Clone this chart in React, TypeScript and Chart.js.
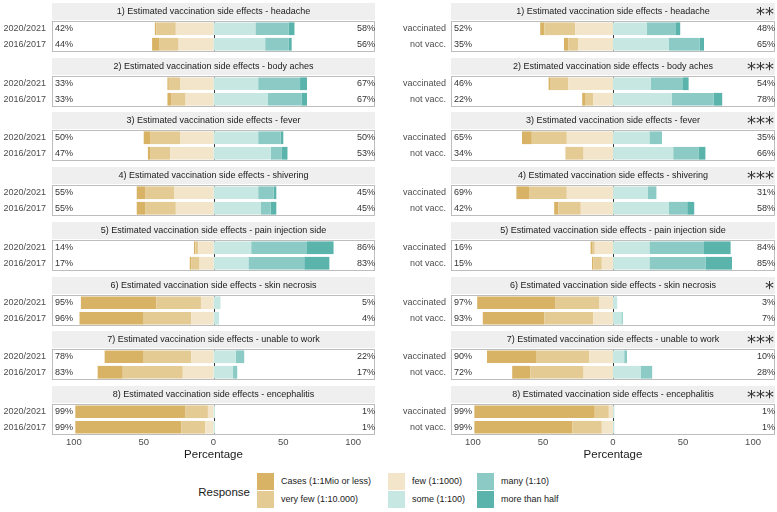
import React, { useEffect, useRef } from 'react';
import { Chart, registerables } from 'chart.js';

Chart.register(...registerables);

const FONT = '"Liberation Sans", Arial, Helvetica, sans-serif';

// ---------- data ----------
const panelTitles = [
  '1) Estimated vaccination side effects - headache',
  '2) Estimated vaccination side effects - body aches',
  '3) Estimated vaccination side effects - fever',
  '4) Estimated vaccination side effects - shivering',
  '5) Estimated vaccination side effects - pain injection side',
  '6) Estimated vaccination side effects - skin necrosis',
  '7) Estimated vaccination side effects - unable to work',
  '8) Estimated vaccination side effects - encephalitis',
];
const yearRows = ['2020/2021', '2016/2017'];
const vaccRows = ['vaccinated', 'not vacc.'];
const significance = ['**', '***', '***', '***', '', '*', '***', '***'];

const levels = [
  'Cases (1:1Mio or less)',
  'very few (1:10.000)',
  'few (1:1000)',
  'some (1:100)',
  'many (1:10)',
  'more than half',
];
const levelColors = ['#D8B365', '#E4CA93', '#F2E5C9', '#C6E7E2', '#8CCBC5', '#5AB4AC'];

// left column: by season [2020/2021, 2016/2017]
const casesYear = [[1, 5], [1, 3], [5, 2], [6, 6], [1, 1], [54, 46], [28, 18], [79, 76]];
const veryFewYear = [[14, 14], [8, 10], [21, 14], [21, 22], [2, 6], [32, 34], [34, 43], [16, 17]];
const fewYear = [[27, 25], [24, 20], [24, 31], [28, 27], [11, 10], [9, 16], [16, 22], [4, 6]];
const someYear = [[30, 37], [32, 39], [32, 41], [32, 34], [27, 25], [5, 4], [16, 14], [1, 1]];
const manyYear = [[24, 17], [30, 24], [16, 8], [11, 7], [40, 40], [0, 0], [6, 3], [0, 0]];
const moreYear = [[4, 2], [5, 4], [2, 4], [2, 4], [19, 18], [0, 0], [0, 0], [0, 0]];

// right column: by vaccination status [vaccinated, not vacc.]
const casesVacc = [[3, 3], [1, 2], [7, 0], [9, 3], [1, 1], [56, 44], [35, 13], [86, 70]];
const veryFewVacc = [[22, 7], [13, 6], [25, 13], [27, 16], [2, 6], [31, 35], [38, 38], [10, 21]];
const fewVacc = [[27, 25], [32, 14], [33, 21], [33, 23], [13, 8], [10, 14], [17, 21], [3, 8]];
const someVacc = [[24, 40], [27, 42], [26, 43], [25, 40], [26, 26], [3, 6], [8, 20], [1, 1]];
const manyVacc = [[21, 22], [23, 30], [9, 18], [6, 13], [39, 40], [0, 1], [2, 8], [0, 0]];
const moreVacc = [[3, 3], [4, 6], [0, 5], [0, 5], [19, 19], [0, 0], [0, 0], [0, 0]];

const xLimit = 115.7;
const axisTitle = 'Percentage';
const legendTitle = 'Response';

// ---------- layout ----------
const PERIOD = 54.71;
const boxTop = (k: number) => Math.round(21 + PERIOD * k);
const STRIP = 18;
const BOX_H = 31;
const AXIS_H = 27;

function Panel({ k, col }: { k: number; col: number }) {
  const ref = useRef<HTMLCanvasElement>(null);
  const isLeft = col === 0;
  const bottom = k === panelTitles.length - 1;
  const width = isLeft ? 376 : 387;
  const height = STRIP + BOX_H + (bottom ? AXIS_H : 0);
  const left = isLeft ? 0 : 390;
  const top = boxTop(k) - STRIP;

  useEffect(() => {
    const rows = isLeft ? yearRows : vaccRows;
    const src = isLeft
      ? [casesYear, veryFewYear, fewYear, someYear, manyYear, moreYear]
      : [casesVacc, veryFewVacc, fewVacc, someVacc, manyVacc, moreVacc];
    const order = [2, 1, 0, 3, 4, 5];
    const datasets = order.map((i) => ({
      label: levels[i],
      data: src[i][k].map((v: number) => (i < 3 ? -v : v)),
      backgroundColor: levelColors[i],
      borderWidth: 0,
      barPercentage: 0.82,
      categoryPercentage: 1,
    }));
    const negSum = rows.map((_, r) => src[0][k][r] + src[1][k][r] + src[2][k][r]);
    const posSum = rows.map((_, r) => src[3][k][r] + src[4][k][r] + src[5][k][r]);

    const deco = {
      id: 'deco',
      beforeDatasetsDraw(chart: any) {
        const { ctx, chartArea: a } = chart;
        ctx.save();
        ctx.fillStyle = '#EFEFEF';
        ctx.fillRect(a.left, a.top - STRIP, a.right - a.left, STRIP - 1);
        ctx.fillStyle = '#1A1A1A';
        ctx.font = `9px ${FONT}`;
        ctx.textAlign = 'center';
        ctx.textBaseline = 'middle';
        ctx.fillText(panelTitles[k], (a.left + a.right) / 2, a.top - STRIP / 2 - 0.5);
        if (!isLeft && significance[k]) {
          ctx.font = '18px "DejaVu Sans"';
          ctx.textAlign = 'right';
          ctx.textBaseline = 'alphabetic';
          const m = ctx.measureText(significance[k]);
          const asc = m.actualBoundingBoxAscent;
          const desc = m.actualBoundingBoxDescent;
          const cy = a.top - STRIP / 2 - 0.5;
          ctx.fillStyle = '#333333';
          ctx.fillText(significance[k], a.right - 1, cy + (asc - desc) / 2);
        }
        ctx.restore();
      },
      afterDatasetsDraw(chart: any) {
        const { ctx, chartArea: a, scales } = chart;
        ctx.save();
        // zero reference line, visible only in the gaps between bars
        const x0 = Math.round(scales.x.getPixelForValue(0)) + 0.5;
        const bars = chart.getDatasetMeta(0).data;
        const edges: number[] = [a.top];
        bars.forEach((b: any) => {
          edges.push(b.y - b.height / 2, b.y + b.height / 2);
        });
        edges.push(a.bottom);
        ctx.strokeStyle = '#333333';
        ctx.lineWidth = 1;
        ctx.beginPath();
        for (let i = 0; i + 1 < edges.length; i += 2) {
          ctx.moveTo(x0, edges[i]);
          ctx.lineTo(x0, edges[i + 1]);
        }
        ctx.stroke();
        // panel border
        ctx.strokeStyle = '#BDBDBD';
        ctx.strokeRect(a.left + 0.5, a.top + 0.5, a.right - a.left - 1, a.bottom - a.top - 1);
        // percentage labels
        ctx.fillStyle = '#333333';
        ctx.font = `9px ${FONT}`;
        ctx.textBaseline = 'middle';
        rows.forEach((_, r) => {
          const y = scales.y.getPixelForValue(r);
          ctx.textAlign = 'left';
          ctx.fillText(`${negSum[r]}%`, a.left + 3, y);
          ctx.textAlign = 'right';
          ctx.fillText(`${posSum[r]}%`, a.right, y);
        });
        ctx.restore();
      },
    };

    const chart = new Chart(ref.current as HTMLCanvasElement, {
      type: 'bar',
      data: { labels: rows, datasets },
      options: {
        indexAxis: 'y',
        animation: false,
        responsive: false,
        events: [],
        layout: { padding: { top: STRIP, right: isLeft ? 1 : 2, left: 0, bottom: 0 } },
        plugins: { legend: { display: false }, tooltip: { enabled: false } },
        scales: {
          x: {
            type: 'linear',
            stacked: true,
            min: -xLimit,
            max: xLimit,
            display: bottom,
            grid: { display: false, drawTicks: false },
            border: { display: false },
            ticks: {
              stepSize: 50,
              includeBounds: false,
              padding: 2,
              color: '#4D4D4D',
              font: { family: FONT, size: 9.5 },
              callback: (v: any) => String(Math.abs(Number(v))),
            },
            title: {
              display: bottom,
              text: axisTitle,
              color: '#1A1A1A',
              font: { family: FONT, size: 11.5 },
              padding: 0,
            },
            afterFit: (s: any) => {
              s.height = bottom ? AXIS_H : 0;
              s.paddingLeft = 0;
              s.paddingRight = 0;
            },
          },
          y: {
            type: 'category',
            stacked: true,
            grid: { display: false, drawTicks: false },
            border: { display: false },
            ticks: {
              padding: isLeft ? 6 : 5,
              color: '#4D4D4D',
              font: { family: FONT, size: 9 },
            },
            afterFit: (s: any) => {
              s.width = isLeft ? 52 : 61;
              s.paddingTop = 0;
              s.paddingBottom = 0;
            },
          },
        },
      } as any,
      plugins: [deco],
    });
    return () => chart.destroy();
  }, [k, col]);

  return (
    <canvas
      ref={ref}
      width={width}
      height={height}
      style={{ position: 'absolute', left, top, width, height }}
    />
  );
}

function Legend() {
  const colX = [257, 388, 477];
  const rowY = [473, 491];
  const items = levels.map((lab, i) => ({
    lab,
    color: levelColors[i],
    x: colX[Math.floor(i / 2)],
    y: rowY[i % 2],
  }));
  return (
    <>
      <div
        style={{
          position: 'absolute',
          left: 150,
          width: 100,
          top: 483,
          height: 18,
          lineHeight: '18px',
          textAlign: 'right',
          fontSize: 11.5,
          color: '#1A1A1A',
          fontFamily: FONT,
        }}
      >
        {legendTitle}
      </div>
      {items.map((it) => (
        <React.Fragment key={it.lab}>
          <div
            style={{
              position: 'absolute',
              left: it.x,
              top: it.y,
              width: 17,
              height: 17,
              background: it.color,
            }}
          />
          <div
            style={{
              position: 'absolute',
              left: it.x + 24,
              top: it.y,
              height: 17,
              lineHeight: '17px',
              fontSize: 9,
              color: '#1A1A1A',
              fontFamily: FONT,
              whiteSpace: 'nowrap',
            }}
          >
            {it.lab}
          </div>
        </React.Fragment>
      ))}
    </>
  );
}

export default function App() {
  return (
    <div
      style={{
        position: 'absolute',
        left: 0,
        top: 0,
        width: 777,
        height: 512,
        background: '#FFFFFF',
        overflow: 'hidden',
        fontFamily: FONT,
      }}
    >
      {panelTitles.map((_, k) => (
        <Panel key={'L' + k} k={k} col={0} />
      ))}
      {panelTitles.map((_, k) => (
        <Panel key={'R' + k} k={k} col={1} />
      ))}
      <Legend />
    </div>
  );
}
